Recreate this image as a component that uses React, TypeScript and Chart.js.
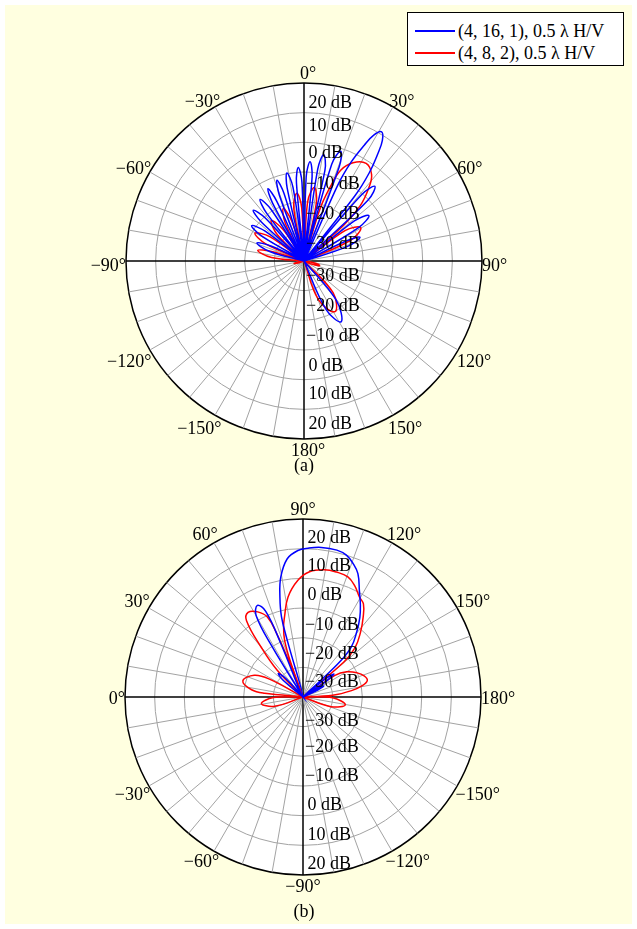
import React, { useEffect, useRef } from 'react';
import { Chart, registerables } from 'chart.js';

Chart.register(...registerables);

const FONT = '"Liberation Serif", "Times New Roman", serif';

// ---------- axes ----------
const R_MIN = -40;
const R_MAX = 20;
const R_STEP = 10;
const angleTicks = [0, 30, 60, 90, 120, 150, 180, 210, 240, 270, 300, 330];
const dbTicks = [-30, -20, -10, 0, 10, 20];
const ANG_STEP = 0.5; // degrees between radar categories
const labels = Array.from({ length: 720 }, (_, i) => i * ANG_STEP);

// ---------- series ----------
const seriesNames = ['(4, 16, 1), 0.5 \u03bb H/V', '(4, 8, 2), 0.5 \u03bb H/V'];
const seriesColors = ['#0000ff', '#ff0000'];

// (a) [angle deg, gain dB]
const blueA: [number, number][] = [
  [-78, -40], [-74.5, -28], [-69, -23], [-65.5, -28],
  [-62.5, -40], [-59.5, -23.5], [-56, -18.7], [-52.5, -23.5],
  [-50, -40], [-47.5, -20.5], [-45, -15.8], [-42, -20.5],
  [-40, -40], [-38, -19.5], [-35.5, -14.5], [-32.5, -19.5],
  [-30.5, -40], [-28.5, -17.8], [-26.5, -12.8], [-24.5, -17.8],
  [-22.5, -40], [-20.5, -16.3], [-18.5, -11.3], [-16.5, -16.3],
  [-14.5, -40], [-13, -14.8], [-11, -9.8], [-8.5, -14.8],
  [-7, -40], [-5.5, -13.4], [-3.5, -8.4], [-1.5, -13.4],
  [0, -40], [1.5, -11.5], [3.5, -6.5], [5.5, -11.5],
  [7, -40], [8.5, -8.6], [10.5, -3.6], [13, -8.6],
  [14.5, -40], [16, -6], [18.5, -1], [20.5, -6],
  [22, -40], [24, -12], [25.5, -3], [27.5, 4], [29, 8.5], [31, 10.8], [33, 8.5], [34.5, 4], [36.5, -3], [38, -12],
  [39, -40], [41, -10.3], [43.5, -5.3], [46.5, -10.3],
  [48.5, -40], [51.5, -18.3], [55, -13.3], [58.5, -18.3],
  [61.5, -40], [64.5, -24.5], [67, -19.5], [71.5, -24.5],
  [75, -40],
  [135, -40], [140.5, -23], [148.5, -16], [155.5, -22], [161, -40],
];

const redA: [number, number][] = [
  [-112, -40], [-109, -38.5], [-104, -36.5], [-99, -38.5], [-96, -40],
  [-88, -40], [-84, -29], [-77, -24], [-73.5, -29],
  [-70, -40], [-66, -26], [-60.5, -21], [-54.5, -26],
  [-50, -40], [-45.5, -27.5], [-39, -22.5], [-33.5, -27.5],
  [-30, -40], [-26.5, -26], [-21.5, -21], [-17, -26],
  [-14, -40], [-11, -22], [-6, -17], [-2.5, -22],
  [0.5, -40], [3.5, -20], [8, -15], [12, -20],
  [15, -40], [17, -22], [19.5, -13.5], [22, -7], [26.5, -3], [32.5, -1], [38, -3], [41.5, -7], [45.5, -13.5], [48, -22],
  [50, -40], [53.5, -22.8], [59.5, -17.8], [66, -22.8],
  [70, -40],
  [96, -40], [100, -37], [106, -34.5], [112, -37], [118, -40],
  [130, -40], [137.5, -25.5], [148.5, -20], [159.5, -26], [166, -40],
];

// (b) [angle deg, gain dB]
const blueB: [number, number][] = [
  [37, -40], [40, -31.5], [43.5, -28.5], [47, -31.5],
  [50, -40],
  [55.5, -40], [58.5, -20], [60, -8.5], [63.5, -5.5], [66.5, -8.5], [67.5, -20],
  [71, -40], [74.5, -20], [75, -12], [77, -5.4], [79.5, 1.1], [83.5, 6.9], [88, 9.4], [92, 10.2], [97, 10.8],
  [103, 10.8], [107, 10], [110.5, 8.1], [114, 5.5], [118, 0.5], [122, -3.5], [125.5, -7], [129.5, -11.5], [134, -16.6], [136.5, -24],
  [138, -40], [141, -31], [143.5, -27], [146, -31],
  [148, -40], [150, -34.5], [152, -32], [154.5, -34.5],
  [156.5, -40],
];

const redB: [number, number][] = [
  [-24, -40], [-18, -30], [-9, -25.8], [-1, -30],
  [2.5, -40], [5.5, -27], [8, -22.5], [15, -19], [24, -22], [28, -27],
  [31, -40],
  [44, -40], [46, -27.5], [50, -18], [53.5, -8], [57, -6], [62, -7.5], [66, -10.5], [67.5, -17], [68.5, -27],
  [69.5, -40], [70.5, -27], [72, -20], [74.5, -15.5], [77, -12.3], [81.5, -5.9], [87.5, -0.6], [93, 2.3], [99.5, 3.5],
  [105, 3.6], [110.5, 3.2], [115, 1.3], [119.5, -1.3], [123, -2.6], [127, -6.3], [131.5, -10.7], [136.5, -15.8], [139.5, -22],
  [141.5, -40], [146, -27], [150, -23], [156, -20], [161, -18.2], [165.5, -17.6], [169, -19.5], [172.5, -23.5], [176.5, -30],
  [178.5, -40], [181.5, -30], [190.5, -25.5], [199, -30],
  [204, -40],
];

// ---------- helpers ----------
function toRadarData(pts: [number, number][]) {
  const out: (number | null)[] = new Array(labels.length).fill(null);
  for (const [a, v] of pts) {
    const idx = Math.round((((a % 360) + 360) % 360) / ANG_STEP) % labels.length;
    out[idx] = Math.max(R_MIN, v);
  }
  return out;
}

const MINUS = '\u2212';
function fmtAngle(a: number) {
  const v = a > 180 ? a - 360 : a;
  return (v < 0 ? MINUS + Math.abs(v) : String(v)) + '\u00b0';
}
function fmtDb(v: number) {
  return (v < 0 ? MINUS + Math.abs(v) : String(v)) + ' dB';
}

type DecorCfg = {
  startAngle: number;
  topOff: number[];
  botOff: number[];
  yBias: number;
  tbBias: number;
  tbShift: number;
};

function makeDecor(cfg: DecorCfg) {
  return {
    id: 'polarDecor',
    beforeDraw(chart: any) {
      const s = chart.scales.r;
      const ctx = chart.ctx;
      ctx.save();
      ctx.fillStyle = '#ffffff';
      ctx.beginPath();
      ctx.arc(s.xCenter, s.yCenter, s.drawingArea, 0, Math.PI * 2);
      ctx.fill();
      ctx.restore();
    },
    afterDraw(chart: any) {
      const s = chart.scales.r;
      const ctx = chart.ctx;
      const R = s.drawingArea;
      const cx = s.xCenter;
      const cy = s.yCenter;
      ctx.save();
      ctx.font = '18px ' + FONT;
      ctx.fillStyle = '#000';
      ctx.textBaseline = 'alphabetic';
      ctx.textAlign = 'center';
      for (const a of angleTicks) {
        const th = ((a + cfg.startAngle) * Math.PI) / 180;
        const dx = Math.sin(th);
        const dy = -Math.cos(th);
        const text = fmtAngle(a);
        const w = ctx.measureText(text).width;
        const sx = Math.abs(dx) < 1e-6 ? 0 : Math.sign(dx) * Math.sqrt(Math.abs(dx));
        const sy = Math.abs(dy) < 1e-6 ? 0 : Math.sign(dy) * Math.sqrt(Math.abs(dy));
        let x: number;
        let y: number;
        if (sx === 0) {
          x = cx + R * dx + cfg.tbShift;
          y = cy + R * dy + sy * 10.5 + cfg.tbBias;
        } else {
          x = cx + R * dx + (sx * w) / 2;
          y = cy + R * dy + sy * 10 + cfg.yBias;
        }
        ctx.fillText(text, x, y + 6);
      }
      ctx.textAlign = 'left';
      dbTicks.forEach((v, i) => {
        const r = s.getDistanceFromCenterForValue(v);
        const text = fmtDb(v);
        const x = cx + (v < 0 ? 2 : 4.5);
        ctx.fillText(text, x, cy - (r - cfg.topOff[i]) + 6);
        ctx.fillText(text, x, cy + (r - cfg.botOff[i]) + 6);
      });
      ctx.restore();
    },
  };
}

type PanelProps = {
  top: number;
  height: number;
  startAngle: number;
  padding: { left: number; top: number; right: number; bottom: number };
  blue: [number, number][];
  red: [number, number][];
  topOff: number[];
  botOff: number[];
  yBias: number;
  tbBias: number;
  tbShift: number;
};

function PolarPanel(p: PanelProps) {
  const ref = useRef<HTMLCanvasElement | null>(null);
  useEffect(() => {
    if (!ref.current) return;
    const mk = (i: number, pts: [number, number][]) => ({
      label: seriesNames[i],
      data: toRadarData(pts),
      borderColor: seriesColors[i],
      backgroundColor: seriesColors[i],
      borderWidth: 1.5,
      pointRadius: 0,
      pointHoverRadius: 0,
      fill: false,
      tension: 0.4,
      spanGaps: true,
    });
    const chart = new Chart(ref.current, {
      type: 'radar',
      data: { labels, datasets: [mk(0, p.blue), mk(1, p.red)] as any },
      options: {
        responsive: false,
        animation: false,
        layout: { padding: p.padding },
        plugins: { legend: { display: false }, tooltip: { enabled: false } },
        scales: {
          r: {
            min: R_MIN,
            max: R_MAX,
            startAngle: p.startAngle,
            ticks: { display: false, stepSize: R_STEP },
            grid: {
              circular: true,
              color: (c: any) => (c.tick && c.tick.value === R_MAX ? '#000000' : '#a3a3a3'),
              lineWidth: (c: any) => (c.tick && c.tick.value === R_MAX ? 1.5 : 1),
            },
            angleLines: {
              display: true,
              color: (c: any) => (c.index % 180 === 0 ? '#000000' : '#a3a3a3'),
              lineWidth: (c: any) => (c.index % 20 === 0 ? (c.index % 180 === 0 ? 1.5 : 1) : 0),
            },
            pointLabels: { display: false },
          },
        },
      } as any,
      plugins: [
        makeDecor({
          startAngle: p.startAngle,
          topOff: p.topOff,
          botOff: p.botOff,
          yBias: p.yBias,
          tbBias: p.tbBias,
          tbShift: p.tbShift,
        }),
      ],
    });
    return () => chart.destroy();
  }, []);
  return (
    <canvas
      ref={ref}
      width={637}
      height={p.height}
      style={{ position: 'absolute', left: 0, top: p.top, width: 637, height: p.height, display: 'block' }}
    />
  );
}

export default function App() {
  const textStyle: React.CSSProperties = {
    position: 'absolute',
    fontFamily: FONT,
    fontSize: 18,
    lineHeight: '20px',
    whiteSpace: 'nowrap',
    color: '#000',
  };
  return (
    <div style={{ position: 'absolute', left: 0, top: 0, width: 637, height: 929, background: '#ffffff', overflow: 'hidden' }}>
      <div style={{ position: 'absolute', left: 5, top: 5, width: 627, height: 919, background: '#ffffe0' }} />
      <PolarPanel
        top={0}
        height={470}
        startAngle={0}
        padding={{ left: 126, top: 83, right: 155, bottom: 31 }}
        blue={blueA}
        red={redA}
        topOff={[11.7, 11.3, 11, 9.7, 12.3, 19]}
        botOff={[15.7, 15.3, 15, 14.7, 16.3, 16]}
        yBias={3.5}
        tbBias={0.5}
        tbShift={4}
      />
      <PolarPanel
        top={470}
        height={459}
        startAngle={-90}
        padding={{ left: 125, top: 49, right: 156, bottom: 54 }}
        blue={blueB}
        red={redB}
        topOff={[13.7, 15.3, 16.3, 15.4, 16.6, 18]}
        botOff={[7, 10.6, 10.7, 11.4, 11.6, 12]}
        yBias={0.5}
        tbBias={0}
        tbShift={0}
      />
      <div
        style={{
          position: 'absolute',
          left: 407,
          top: 12,
          width: 217,
          height: 54,
          border: '1px solid #000',
          background: '#ffffff',
          boxSizing: 'border-box',
        }}
      >
        <div style={{ position: 'absolute', left: 7, top: 17, width: 40, height: 2, background: seriesColors[0] }} />
        <div style={{ ...textStyle, left: 50, top: 8 }}>{seriesNames[0]}</div>
        <div style={{ position: 'absolute', left: 7, top: 39, width: 40, height: 2, background: seriesColors[1] }} />
        <div style={{ ...textStyle, left: 50, top: 30 }}>{seriesNames[1]}</div>
      </div>
      <div style={{ ...textStyle, left: 0, width: 608, textAlign: 'center', top: 455 }}>(a)</div>
      <div style={{ ...textStyle, left: 0, width: 608, textAlign: 'center', top: 901 }}>(b)</div>
    </div>
  );
}
